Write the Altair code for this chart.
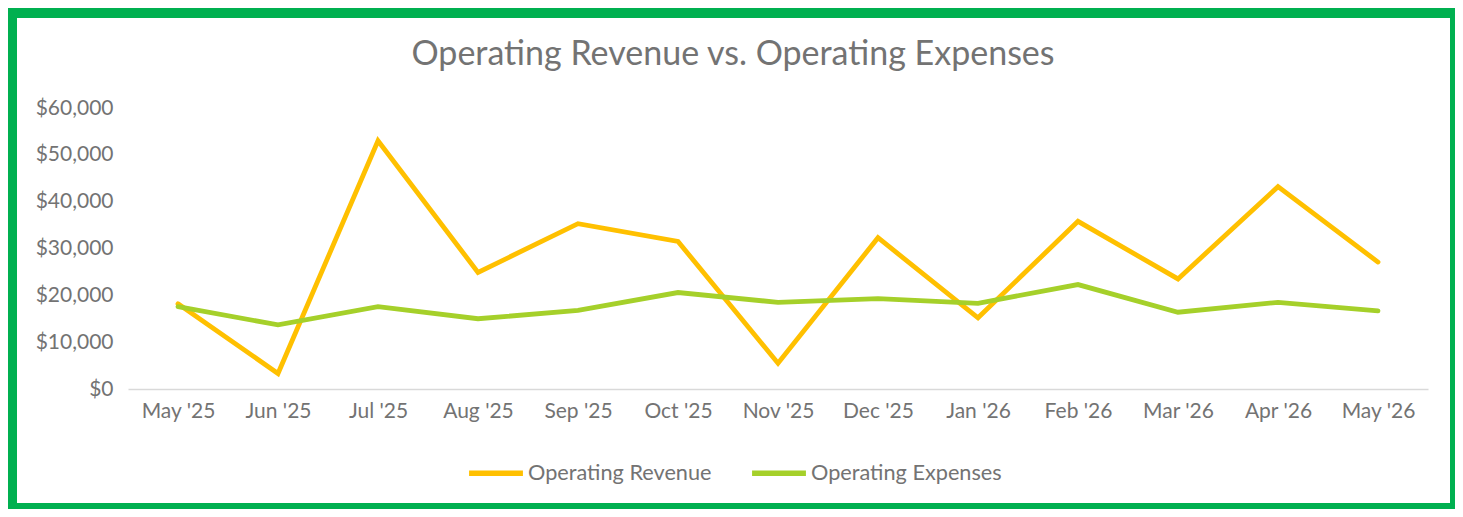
import altair as alt
import pandas as pd

months = ["May '25", "Jun '25", "Jul '25", "Aug '25", "Sep '25", "Oct '25", "Nov '25",
          "Dec '25", "Jan '26", "Feb '26", "Mar '26", "Apr '26", "May '26"]
revenue = [18200, 3300, 53000, 24900, 35300, 31500, 5500, 32300, 15200, 35800, 23500, 43200, 27100]
expenses = [17600, 13700, 17600, 15000, 16800, 20600, 18500, 19300, 18300, 22300, 16400, 18500, 16700]
series_names = ["Operating Revenue", "Operating Expenses"]
series_colors = ["#FFC000", "#A5D02A"]
y_ticks = [0, 10000, 20000, 30000, 40000, 50000, 60000]
title_text = "Operating Revenue vs. Operating Expenses"

df = pd.DataFrame({"Month": months, "idx": list(range(len(months))),
                   series_names[0]: revenue, series_names[1]: expenses})
long = df.melt(id_vars=["Month", "idx"], var_name="Series", value_name="Value")

FONT = "Lato"
TXT = "#737373"

lines = alt.Chart(long).mark_line(strokeWidth=4.8, strokeCap="round", strokeJoin="miter").encode(
    x=alt.X("Month:N", sort=months, title=None,
            scale=alt.Scale(type="point", padding=0.5),
            axis=alt.Axis(labelAngle=0, ticks=False, domainColor="#D9D9D9", domainWidth=1.5,
                          labelFont=FONT, labelFontSize=21, labelColor=TXT, labelPadding=11,
                          grid=False, zindex=1)),
    y=alt.Y("Value:Q", title=None,
            scale=alt.Scale(domain=[0, 60000], nice=False),
            axis=alt.Axis(values=y_ticks, format="$,.0f", ticks=False, domain=False, grid=False,
                          labelFont=FONT, labelFontSize=21, labelColor=TXT, labelPadding=15, zindex=1)),
    color=alt.Color("Series:N", sort=series_names,
                    scale=alt.Scale(domain=series_names, range=series_colors),
                    legend=alt.Legend(title=None, orient="none", direction="horizontal",
                                      legendX=338, legendY=335, labelLimit=0, padding=0,
                                      symbolType="stroke", symbolSize=2900, symbolStrokeWidth=5.5,
                                      labelFont=FONT, labelFontSize=21.7, labelColor=TXT,
                                      labelOffset=2, columnPadding=29, zindex=1)),
    order=alt.Order("idx:Q")
)

frame_df = pd.DataFrame({"label": [title_text]})
frame = alt.Chart(frame_df).mark_rect(fill=None, stroke="#00B050", strokeWidth=16, cornerRadius=6).encode(
    x=alt.value(-119), x2=alt.value(1330), y=alt.value(-98), y2=alt.value(403)
)
title = alt.Chart(frame_df).mark_text(font=FONT, fontSize=34, color=TXT, align="center",
                                      baseline="middle").encode(
    text="label:N", x=alt.value(605), y=alt.value(-53)
)

chart = alt.layer(lines, frame, title).properties(
    width=1300, height=281,
    autosize=alt.AutoSizeParams(type="none"),
    padding={"left": 120, "top": 100, "right": 27, "bottom": 120},
).configure(background="white").configure_view(strokeWidth=0)

chart.save("out.html", embed_options={"renderer": "svg", "actions": False})
